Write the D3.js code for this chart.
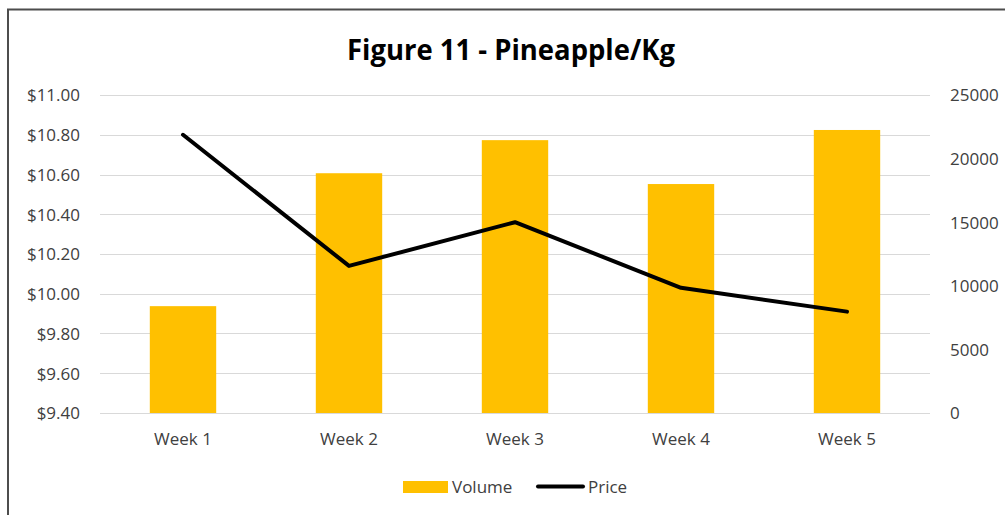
<!DOCTYPE html>
<html>
<head>
<meta charset="utf-8">
<script src="https://cdn.jsdelivr.net/npm/d3@7"></script>
<style>
  body { margin: 0; background: #fff; }
  text { font-family: "Open Sans", sans-serif; fill: #404040; }
</style>
</head>
<body>
<svg id="chart" width="1005" height="515"></svg>
<script>
const weeks = ["Week 1", "Week 2", "Week 3", "Week 4", "Week 5"];
const volume = [8400, 18850, 21450, 18000, 22250];
const price = [10.80, 10.14, 10.36, 10.03, 9.91];
const priceTicks = [9.4, 9.6, 9.8, 10.0, 10.2, 10.4, 10.6, 10.8, 11.0];
const volumeTicks = [0, 5000, 10000, 15000, 20000, 25000];

let margin = { top: 95, right: 75, bottom: 102, left: 100 },
  width = 1005 - margin.left - margin.right,
  height = 515 - margin.top - margin.bottom;

let svg = d3.select("#chart");

// chart frame
svg.append("rect")
  .attr("x", 8).attr("y", 9.5)
  .attr("width", 1010).attr("height", 520)
  .attr("fill", "none")
  .attr("stroke", "#4d4d4d")
  .attr("stroke-width", 2);

svg.append("text")
  .attr("x", 511).attr("y", 60)
  .attr("text-anchor", "middle")
  .attr("font-weight", "bold")
  .attr("font-size", 28)
  .attr("textLength", 328)
  .attr("lengthAdjust", "spacingAndGlyphs")
  .style("fill", "#000")
  .text("Figure 11 - Pineapple/Kg");

let g = svg.append("g")
  .attr("transform", "translate(" + margin.left + "," + margin.top + ")");

let x = d3.scaleBand()
  .range([0, width])
  .padding(0.6)
  .paddingOuter(0.3)
  .domain(weeks);

let yPrice = d3.scaleLinear().range([height, 0]).domain([9.4, 11.0]);
let yVol = d3.scaleLinear().range([height, 0]).domain([0, 25000]);

// gridlines
g.selectAll(".grid")
  .data(priceTicks)
  .enter().append("line")
  .attr("x1", 0).attr("x2", width)
  .attr("y1", d => Math.round(yPrice(d)) + 0.5)
  .attr("y2", d => Math.round(yPrice(d)) + 0.5)
  .attr("stroke", "#d9d9d9")
  .attr("stroke-width", 1);

// bars
g.selectAll(".bar")
  .data(weeks)
  .enter().append("rect")
  .attr("fill", "#FFC000")
  .attr("x", d => x(d))
  .attr("width", x.bandwidth())
  .attr("y", (d, i) => yVol(volume[i]))
  .attr("height", (d, i) => height - yVol(volume[i]));

// price line
let line = d3.line()
  .x((d, i) => x(weeks[i]) + x.bandwidth() / 2)
  .y(d => yPrice(d));

g.append("path")
  .datum(price)
  .attr("d", line)
  .attr("fill", "none")
  .attr("stroke", "#000")
  .attr("stroke-width", 4)
  .attr("stroke-linejoin", "round")
  .attr("stroke-linecap", "round");

// left axis
let left = g.append("g")
  .attr("transform", "translate(-20,0)")
  .call(d3.axisLeft(yPrice).tickValues(priceTicks).tickSize(0).tickFormat(d3.format("$.2f")));
left.select(".domain").remove();
left.selectAll("text").attr("font-size", 17).attr("dy", "0.35em").attr("x", 0);

// right axis
let right = g.append("g")
  .attr("transform", "translate(" + (width + 20) + ",0)")
  .call(d3.axisRight(yVol).tickValues(volumeTicks).tickSize(0).tickFormat(d3.format("d")));
right.select(".domain").remove();
right.selectAll("text").attr("font-size", 17).attr("dy", "0.35em").attr("x", 0);

// bottom axis
let bottom = g.append("g")
  .attr("transform", "translate(0," + height + ")")
  .call(d3.axisBottom(x).tickSize(0));
bottom.select(".domain").remove();
bottom.selectAll("text").attr("font-size", 17).attr("y", 20).attr("dy", "0.71em");

// legend
let legend = svg.append("g");
legend.append("rect")
  .attr("x", 403).attr("y", 481).attr("width", 45).attr("height", 12)
  .attr("fill", "#FFC000");
legend.append("text")
  .attr("x", 452).attr("y", 493).attr("font-size", 17).text("Volume");
legend.append("line")
  .attr("x1", 538).attr("x2", 583).attr("y1", 486.5).attr("y2", 486.5)
  .attr("stroke", "#000").attr("stroke-width", 4).attr("stroke-linecap", "round");
legend.append("text")
  .attr("x", 588).attr("y", 493).attr("font-size", 17).text("Price");
</script>
</body>
</html>
